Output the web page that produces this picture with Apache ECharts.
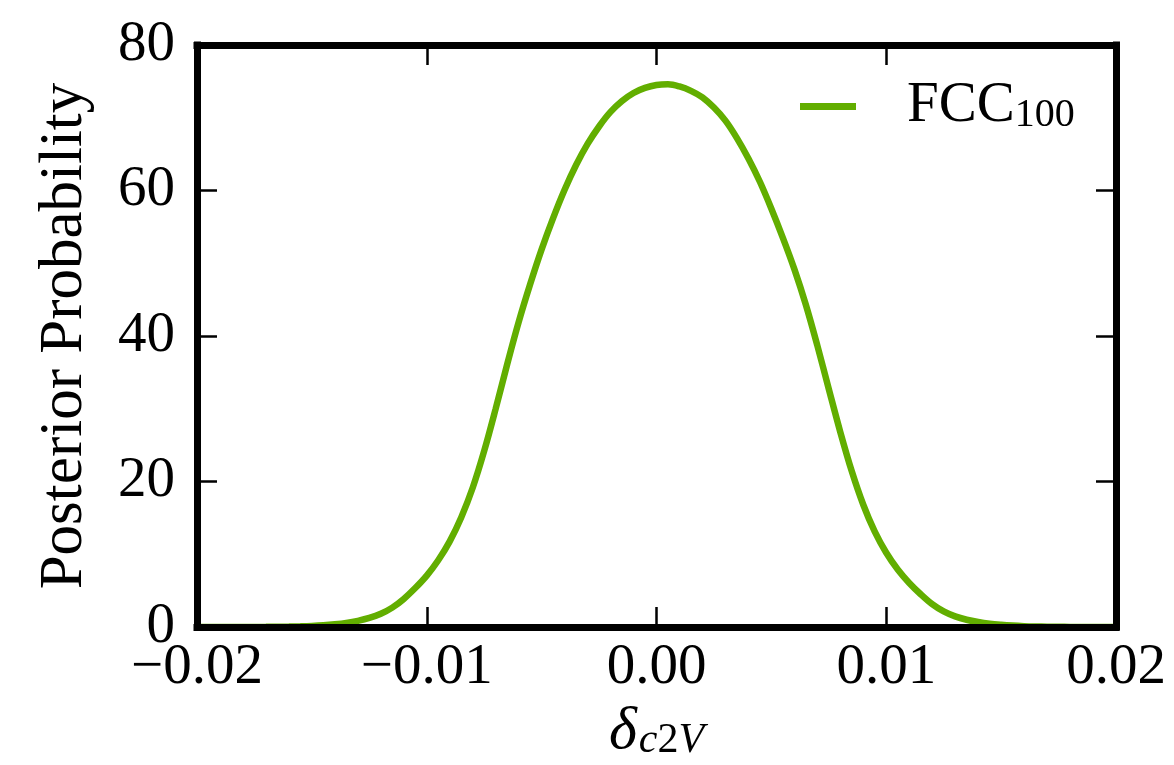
<!DOCTYPE html>
<html>
<head>
<meta charset="utf-8">
<script src="https://cdn.jsdelivr.net/npm/echarts@6/dist/echarts.min.js"></script>
<style>
  html, body { margin: 0; padding: 0; background: #ffffff; }
  #chart { width: 1174px; height: 765px; }
</style>
</head>
<body>
<div id="chart"></div>
<script>
// Posterior probability density of delta_{c2V} (FCC_100 projection)
const deltaValues = [
  -0.0200, -0.0195, -0.0190, -0.0185, -0.0180, -0.0175, -0.0170, -0.0165, -0.0160, -0.0155,
  -0.0150, -0.0145, -0.0140, -0.0135, -0.0130, -0.0125, -0.0120, -0.0115, -0.0110, -0.0105,
  -0.0100, -0.0095, -0.0090, -0.0085, -0.0080, -0.0075, -0.0070, -0.0065, -0.0060, -0.0055,
  -0.0050, -0.0045, -0.0040, -0.0035, -0.0030, -0.0025, -0.0020, -0.0015, -0.0010, -0.0005,
   0.0000,  0.0005,  0.0010,  0.0015,  0.0020,  0.0025,  0.0030,  0.0035,  0.0040,  0.0045,
   0.0050,  0.0055,  0.0060,  0.0065,  0.0070,  0.0075,  0.0080,  0.0085,  0.0090,  0.0095,
   0.0100,  0.0105,  0.0110,  0.0115,  0.0120,  0.0125,  0.0130,  0.0135,  0.0140,  0.0145,
   0.0150,  0.0155,  0.0160,  0.0165,  0.0170,  0.0175,  0.0180,  0.0185,  0.0190,  0.0195,
   0.0200
];

const fcc100Posterior = [
  0, 0, 0, 0.003, 0.006, 0.012, 0.021, 0.036, 0.058, 0.094,
  0.15, 0.24, 0.38, 0.57, 0.85, 1.24, 1.81, 2.66, 3.86, 5.35,
  7.06, 9.17, 11.77, 15.06, 19.14, 24.2, 30.0, 36.1, 41.9, 47.1,
  51.9, 56.2, 60.1, 63.5, 66.4, 68.8, 70.8, 72.3, 73.4, 74.1,
  74.5, 74.6, 74.3, 73.7, 72.8, 71.4, 69.6, 67.2, 64.4, 61.2,
  57.5, 53.5, 49.2, 44.3, 38.7, 32.7, 26.8, 21.4, 16.8, 13.1,
  10.2, 7.9, 6.05, 4.5, 3.14, 2.14, 1.46, 1.0, 0.68, 0.45,
  0.3, 0.19, 0.116, 0.072, 0.044, 0.027, 0.016, 0.009, 0.004, 0,
  0
];

const xTickLabels = ['\u22120.02', '\u22120.01', '0.00', '0.01', '0.02'];
const yTickLabels = ['0', '20', '40', '60', '80'];
const seriesName = 'FCC100';

const FONT = '"Liberation Serif", "DejaVu Serif", serif';
const GREEN = '#62ae00';

const points = deltaValues.map((x, i) => [x, fcc100Posterior[i]]);

const frameLine = { show: true, onZero: false, lineStyle: { color: '#000', width: 7, cap: 'square' } };
const innerTick = { show: true, inside: true, length: 20, lineStyle: { color: '#000', width: 2.5 } };

const xLabelFmt = v => xTickLabels[Math.round((v + 0.02) / 0.01)];
const yLabelFmt = v => yTickLabels[Math.round(v / 20)];

const chart = echarts.init(document.getElementById('chart'), null, { renderer: 'canvas' });

chart.setOption({
  backgroundColor: '#ffffff',
  animation: false,
  grid: { left: 197, right: 58, top: 45, bottom: 138, show: false, containLabel: false, outerBoundsMode: 'none' },
  legend: {
    show: true,
    left: 795,
    top: 73,
    icon: 'rect',
    itemWidth: 56,
    itemHeight: 7,
    data: [seriesName],
    formatter: () => '{m|FCC}{s|100}',
    textStyle: {
      padding: [0, 0, 0, 46],
      rich: {
        m: { fontFamily: FONT, fontSize: 57, color: '#000', lineHeight: 57, padding: [0, 0, 12, 0], verticalAlign: 'top' },
        s: { fontFamily: FONT, fontSize: 40, color: '#000', lineHeight: 40, verticalAlign: 'bottom' }
      }
    }
  },
  xAxis: [
    {
      type: 'value', position: 'bottom', min: -0.02, max: 0.02, interval: 0.01, z: 10,
      axisLine: frameLine, axisTick: innerTick, splitLine: { show: false },
      axisLabel: { formatter: xLabelFmt, fontFamily: FONT, fontSize: 57, color: '#000', margin: 13 },
      name: '{d|\u03b4}{s|c}{n|2}{s|V}',
      nameLocation: 'middle',
      nameGap: 72,
      nameTextStyle: {
        rich: {
          d: { fontFamily: FONT, fontSize: 60, fontStyle: 'italic', color: '#000', lineHeight: 60, padding: [0, 2, 14, 0], verticalAlign: 'top' },
          s: { fontFamily: FONT, fontSize: 42, fontStyle: 'italic', color: '#000', lineHeight: 42, verticalAlign: 'bottom' },
          n: { fontFamily: FONT, fontSize: 42, color: '#000', lineHeight: 42, verticalAlign: 'bottom' }
        }
      }
    },
    {
      type: 'value', position: 'top', min: -0.02, max: 0.02, interval: 0.01, z: 10,
      axisLine: frameLine, axisTick: innerTick, splitLine: { show: false },
      axisLabel: { show: false }
    }
  ],
  yAxis: [
    {
      type: 'value', position: 'left', min: 0, max: 80, interval: 20, z: 10,
      axisLine: frameLine, axisTick: innerTick, splitLine: { show: false },
      axisLabel: { formatter: yLabelFmt, fontFamily: FONT, fontSize: 57, color: '#000', margin: 22 },
      name: 'Posterior Probability',
      nameLocation: 'middle',
      nameGap: 102,
      nameTextStyle: { fontFamily: FONT, fontSize: 61, color: '#000' }
    },
    {
      type: 'value', position: 'right', min: 0, max: 80, interval: 20, z: 10,
      axisLine: frameLine, axisTick: innerTick, splitLine: { show: false },
      axisLabel: { show: false }
    }
  ],
  series: [
    {
      name: seriesName,
      type: 'line',
      xAxisIndex: 0,
      yAxisIndex: 0,
      data: points,
      showSymbol: false,
      smooth: 0.35,
      z: 2,
      lineStyle: { color: GREEN, width: 6.5 },
      itemStyle: { color: GREEN }
    }
  ]
});
</script>
</body>
</html>
